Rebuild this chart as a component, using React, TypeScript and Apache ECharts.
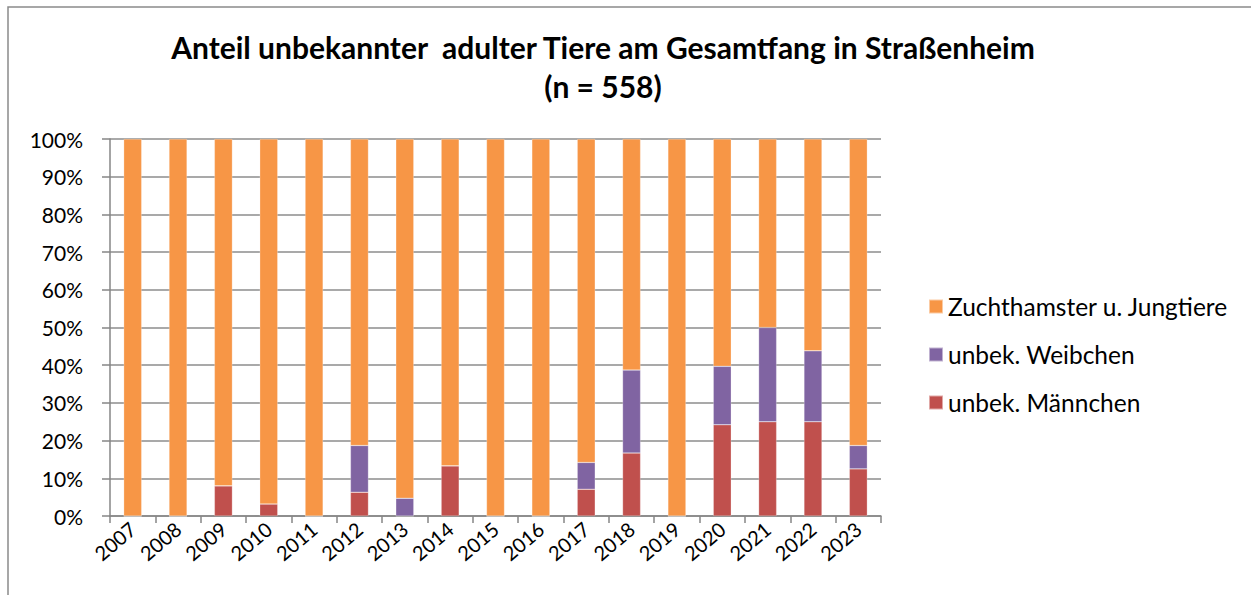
import React, { useEffect, useRef } from "react";
import * as echarts from "echarts";

const years = ["2007","2008","2009","2010","2011","2012","2013","2014","2015","2016","2017","2018","2019","2020","2021","2022","2023"];
const maennchen = [0, 0, 8.0, 3.2, 0, 6.3, 0, 13.3, 0, 0, 7.1, 16.7, 0, 24.2, 25, 25, 12.5];
const weibchen = [0, 0, 0, 0, 0, 12.4, 4.7, 0, 0, 0, 7.1, 22.0, 0, 15.5, 25, 18.8, 6.2];
const zucht = [100, 100, 92.0, 96.8, 100, 81.3, 95.3, 86.7, 100, 100, 85.8, 61.3, 100, 60.3, 50, 56.2, 81.3];

const FONT = "Lato, 'Noto Sans', sans-serif";

export default function App() {
  const ref = useRef<HTMLDivElement>(null);
  useEffect(() => {
    if (!ref.current) return;
    const chart = echarts.init(ref.current, null, { renderer: "svg" });
    const barStyle = (color: string) => ({ color, borderColor: "rgba(255,255,255,0.5)", borderWidth: 0.5 });
    chart.setOption({
      animation: false,
      backgroundColor: "#ffffff",
      textStyle: { fontFamily: FONT },
      title: {
        text: "Anteil unbekannter  adulter Tiere am Gesamtfang in Straßenheim\n(n = 558)",
        left: 598,
        textAlign: "center",
        top: 22,
        textStyle: { fontFamily: FONT, fontSize: 30, fontWeight: "bold", color: "#000", lineHeight: 39 },
      },
      graphic: [
        { type: "rect", shape: { x: 8, y: 7, width: 1400, height: 800 }, style: { fill: "none", stroke: "#8a8a8a", lineWidth: 1.5 }, silent: true },
      ],
      legend: {
        orient: "vertical",
        left: 923,
        top: 289,
        itemGap: 23,
        itemWidth: 14,
        itemHeight: 14,
        icon: "rect",
        data: ["Zuchthamster u. Jungtiere", "unbek. Weibchen", "unbek. Männchen"],
        textStyle: { fontFamily: FONT, fontSize: 24.5, color: "#000", lineHeight: 24, padding: [0, 0, 0, 0] },
      },
      grid: { left: 110, top: 139, width: 771, height: 377 },
      xAxis: {
        type: "category",
        data: years,
        axisLine: { lineStyle: { color: "#868686", width: 1.5 } },
        axisTick: { show: true, length: 7, lineStyle: { color: "#868686", width: 1.5 } },
        axisLabel: { rotate: 40, fontSize: 20, color: "#000", margin: 10, fontFamily: FONT },
      },
      yAxis: {
        type: "value",
        min: 0,
        max: 100,
        interval: 10,
        axisLine: { show: true, lineStyle: { color: "#868686", width: 1.5 } },
        axisTick: { show: true, length: 8, lineStyle: { color: "#868686", width: 1.5 } },
        splitLine: { lineStyle: { color: "#8c8c8c", width: 1.5 } },
        axisLabel: { formatter: "{value}%", fontSize: 21, color: "#000", margin: 27, fontFamily: FONT },
      },
      series: [
        { name: "unbek. Männchen", type: "bar", stack: "a", data: maennchen, barWidth: 18, itemStyle: barStyle("#C0504D") },
        { name: "unbek. Weibchen", type: "bar", stack: "a", data: weibchen, barWidth: 18, itemStyle: barStyle("#8064A2") },
        { name: "Zuchthamster u. Jungtiere", type: "bar", stack: "a", data: zucht, barWidth: 18, itemStyle: barStyle("#F79646") },
      ],
    });
    return () => chart.dispose();
  }, []);
  return <div ref={ref} style={{ position: "fixed", left: 0, top: 0, width: 1251, height: 595 }} />;
}
